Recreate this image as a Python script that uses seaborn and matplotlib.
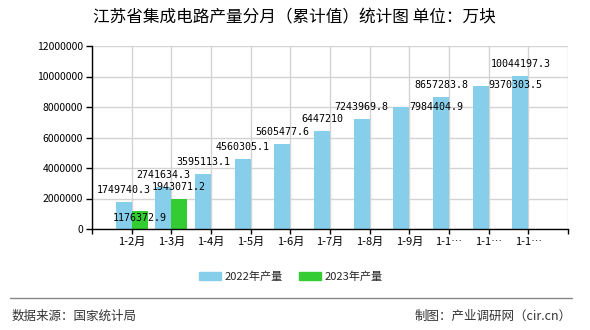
import numpy as np
import pandas as pd
import matplotlib
matplotlib.use("Agg")
import matplotlib.pyplot as plt
from matplotlib.lines import Line2D
import seaborn as sns

# ---- data ----
months = ['1-2月', '1-3月', '1-4月', '1-5月', '1-6月', '1-7月', '1-8月',
          '1-9月', '1-10月', '1-11月', '1-12月']
tick_labels = ['1-2月', '1-3月', '1-4月', '1-5月', '1-6月', '1-7月', '1-8月',
               '1-9月', '1-1…', '1-1…', '1-1…']
v2022 = [1749740.3, 2741634.3, 3595113.1, 4560305.1, 5605477.6, 6447210,
         7243969.8, 7984404.9, 8657283.8, 9370303.5, 10044197.3]
v2023 = [1176372.9, 1943071.2, None, None, None, None, None, None, None, None, None]
series_names = ['2022年产量', '2023年产量']
y_ticks = [0, 2000000, 4000000, 6000000, 8000000, 10000000, 12000000]

title = '江苏省集成电路产量分月（累计值）统计图 单位：万块'
source_text = '数据来源：国家统计局'
maker_text = '制图：产业调研网（cir.cn）'

rows = []
for m, a, b in zip(months, v2022, v2023):
    rows.append({'月份': m, '系列': series_names[0], '产量': a})
    if b is not None:
        rows.append({'月份': m, '系列': series_names[1], '产量': b})
df = pd.DataFrame(rows)

# ---- style ----
sns.set_style("white")
plt.rcParams['font.family'] = ['Noto Sans CJK SC', 'DejaVu Sans']

fig = plt.figure(figsize=(5.9, 3.3), dpi=100)
ax = fig.add_axes([92 / 590, 1 - 229 / 330, (568 - 92) / 590, (229 - 46) / 330])

colors = {'2022年产量': '#87CEEB', '2023年产量': '#33CC33'}
sns.barplot(data=df, x='月份', y='产量', hue='系列', order=months,
            hue_order=series_names, palette=colors, width=0.8,
            dodge=True, saturation=1, ax=ax, legend=False, errorbar=None,
            linewidth=0, edgecolor='none')

ax.set_xlim(-1, len(months))
ax.set_ylim(y_ticks[0], y_ticks[-1])
ax.set_yticks(y_ticks)
ax.set_yticklabels([str(t) for t in y_ticks])
ax.set_xticks(range(-1, len(months) + 1))
ax.set_xticklabels([''] + tick_labels + [''])
ax.set_xlabel('')
ax.set_ylabel('')

ax.grid(True, axis='both', color='#d3d3d3', linewidth=1)
ax.set_axisbelow(True)
for sp in ['top', 'right']:
    ax.spines[sp].set_visible(False)
for sp in ['left', 'bottom']:
    ax.spines[sp].set_color('black')
    ax.spines[sp].set_linewidth(1)
ax.tick_params(axis='y', length=4, width=1, color='black', pad=2.5,
               labelsize=7.5, labelcolor='black')
ax.tick_params(axis='x', length=3.5, width=1, color='black', pad=2.5,
               labelsize=8, labelcolor='black')
ax.tick_params(left=True, bottom=True)

# ---- value labels ----
label_shift = {(series_names[1], 0): (0, -7),
               (series_names[0], 7): (35, 0),
               (series_names[0], 9): (35, 1)}
for cont, name in zip(ax.containers, series_names):
    for bar in cont:
        h = bar.get_height()
        if h is None or np.isnan(h):
            continue
        xc = bar.get_x() + bar.get_width() / 2
        idx = int(round(xc))
        dx, dy = label_shift.get((name, idx), (0, 12))
        txt = f"{h:.1f}".rstrip('0').rstrip('.')
        ax.annotate(txt, (xc, h), xytext=(dx, dy), textcoords='offset pixels',
                    ha='center', va='center', fontsize=7.2,
                    family='DejaVu Sans Mono', color='black', zorder=5)

# ---- title ----
fig.text(294 / 590, 1 - 18 / 330, title, ha='center', va='center',
         fontsize=12, color='black')

# ---- legend ----
handles = [plt.Rectangle((0, 0), 1, 1, color=colors[n]) for n in series_names]
fig.legend(handles, series_names, loc='center', ncol=2, frameon=False,
           bbox_to_anchor=(291 / 590, 1 - 277 / 330), fontsize=8,
           handlelength=2.0, handleheight=0.75, handletextpad=0.35,
           columnspacing=1.4, borderpad=0, borderaxespad=0)

# ---- footer ----
fig.add_artist(Line2D([10 / 590, 572 / 590], [1 - 298 / 330, 1 - 298 / 330],
                      color='#888888', linewidth=1, transform=fig.transFigure))
fig.text(12 / 590, 1 - 316 / 330, source_text, ha='left', va='center',
         fontsize=9, color='#333333')
fig.text(572 / 590, 1 - 316 / 330, maker_text, ha='right', va='center',
         fontsize=9, color='#333333')

fig.savefig('out.png', dpi=100)
